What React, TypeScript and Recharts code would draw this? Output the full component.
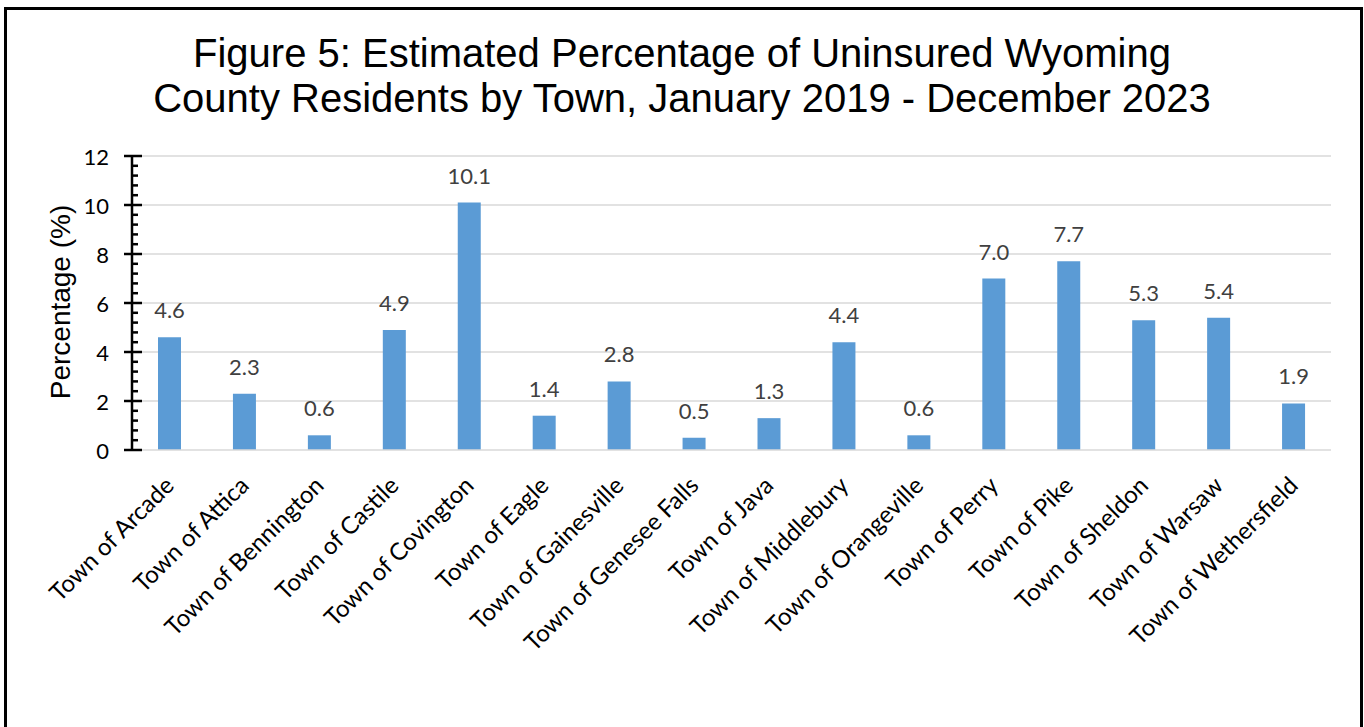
import React from 'react';
import { BarChart, Bar, XAxis, YAxis, CartesianGrid, LabelList } from 'recharts';

const towns = [
  'Town of Arcade',
  'Town of Attica',
  'Town of Bennington',
  'Town of Castile',
  'Town of Covington',
  'Town of Eagle',
  'Town of Gainesville',
  'Town of Genesee Falls',
  'Town of Java',
  'Town of Middlebury',
  'Town of Orangeville',
  'Town of Perry',
  'Town of Pike',
  'Town of Sheldon',
  'Town of Warsaw',
  'Town of Wethersfield',
];
const uninsuredPct = [4.6, 2.3, 0.6, 4.9, 10.1, 1.4, 2.8, 0.5, 1.3, 4.4, 0.6, 7.0, 7.7, 5.3, 5.4, 1.9];
const majorTicks = [0, 2, 4, 6, 8, 10, 12];
const minorTicks = [
  0, 0.4, 0.8, 1.2, 1.6, 2, 2.4, 2.8, 3.2, 3.6, 4, 4.4, 4.8, 5.2, 5.6, 6, 6.4, 6.8, 7.2, 7.6, 8,
  8.4, 8.8, 9.2, 9.6, 10, 10.4, 10.8, 11.2, 11.6, 12,
];
const titleLines = [
  'Figure 5: Estimated Percentage of Uninsured Wyoming',
  'County Residents by Town, January 2019 - December 2023',
];
const yAxisTitle = 'Percentage (%)';

const data = towns.map((town, i) => ({ town, pct: uninsuredPct[i] }));

const LABEL_FONT = 'Lato, "Open Sans", sans-serif';
const TITLE_FONT = '"Liberation Sans", Arial, sans-serif';

const YTick = (props: any) => {
  const { x, y, payload } = props;
  const v = payload.value;
  const isMajor = majorTicks.some((m) => Math.abs(m - v) < 1e-6);
  if (isMajor) {
    return (
      <g>
        <line x1={x - 8} x2={x + 10} y1={y} y2={y} stroke="#000" strokeWidth={2.5} />
        <text
          x={x - 23}
          y={y}
          textAnchor="end"
          dominantBaseline="central"
          fontFamily={LABEL_FONT}
          fontSize={22}
          fill="#000"
        >
          {v}
        </text>
      </g>
    );
  }
  return <line x1={x} x2={x + 6} y1={y} y2={y} stroke="#000" strokeWidth={2.5} />;
};

const XTick = (props: any) => {
  const { x, y, payload } = props;
  const tx = x + 6;
  const ty = y + 29;
  return (
    <text
      x={tx}
      y={ty}
      transform={`rotate(-45 ${tx} ${ty})`}
      textAnchor="end"
      fontFamily={LABEL_FONT}
      fontSize={24}
      fill="#000"
    >
      {payload.value}
    </text>
  );
};

export default function App() {
  return (
    <div
      style={{
        position: 'absolute',
        left: 0,
        top: 0,
        width: 1364,
        height: 727,
        background: '#fff',
        overflow: 'hidden',
      }}
    >
      <div
        style={{
          position: 'absolute',
          left: 4,
          top: 7,
          width: 1353,
          height: 760,
          borderLeft: '3px solid #000',
          borderTop: '3px solid #000',
          borderRight: '3px solid #000',
        }}
      />
      {titleLines.map((t, i) => (
        <div
          key={i}
          style={{
            position: 'absolute',
            left: 0,
            width: 1364,
            top: 31 + i * 45,
            textAlign: 'center',
            fontFamily: TITLE_FONT,
            fontSize: 40,
            lineHeight: '45px',
            color: '#000',
            whiteSpace: 'nowrap',
          }}
        >
          {t}
        </div>
      ))}
      <div style={{ position: 'absolute', left: 0, top: 0 }}>
        <BarChart
          width={1364}
          height={727}
          data={data}
          margin={{ top: 156, right: 33, bottom: 77, left: 32 }}
          barSize={23}
        >
          <CartesianGrid
            vertical={false}
            horizontal={true}
            horizontalValues={[2, 4, 6, 8, 10, 12]}
            stroke="#d9d9d9"
            strokeWidth={1.5}
          />
          <XAxis
            dataKey="town"
            interval={0}
            height={200}
            tickLine={false}
            axisLine={{ stroke: '#d9d9d9', strokeWidth: 1.5 }}
            tick={<XTick />}
          />
          <YAxis
            width={100}
            domain={[0, 12]}
            ticks={minorTicks}
            interval={0}
            tickSize={0}
            tickMargin={0}
            tickLine={false}
            axisLine={{ stroke: '#000', strokeWidth: 2.5 }}
            tick={<YTick />}
            allowDataOverflow
          />
          <Bar dataKey="pct" fill="#5b9bd5" isAnimationActive={false}>
            <LabelList
              dataKey="pct"
              position="top"
              offset={19}
              formatter={(v: any) => Number(v).toFixed(1)}
              fill="#404040"
              fontSize={22}
              fontFamily={LABEL_FONT}
            />
          </Bar>
        </BarChart>
      </div>
      <svg
        width={1364}
        height={727}
        style={{ position: 'absolute', left: 0, top: 0, pointerEvents: 'none' }}
      >
        <text
          x={70}
          y={302}
          transform="rotate(-90 70 302)"
          textAnchor="middle"
          fontFamily={TITLE_FONT}
          fontSize={28}
          fill="#000"
        >
          {yAxisTitle}
        </text>
      </svg>
    </div>
  );
}
